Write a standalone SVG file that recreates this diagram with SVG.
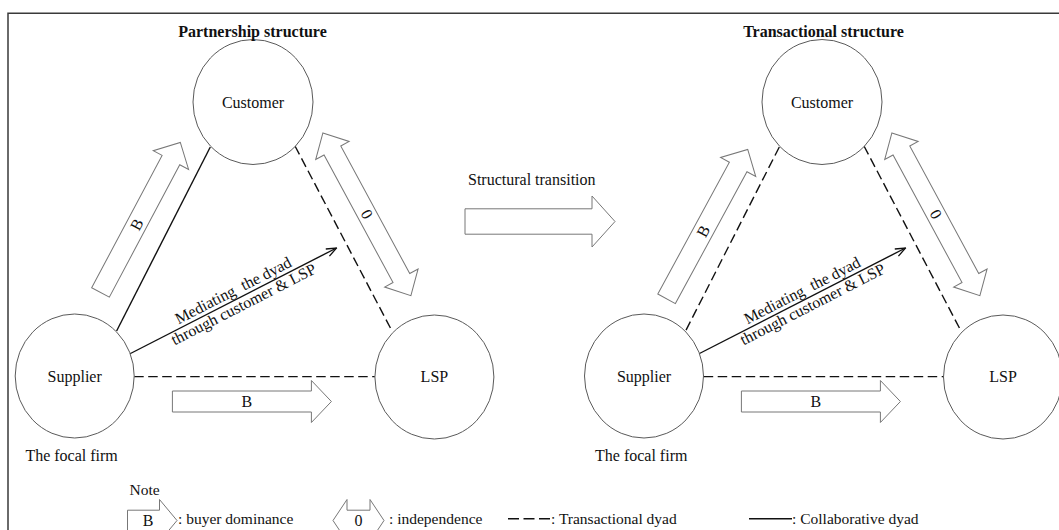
<svg xmlns="http://www.w3.org/2000/svg" width="1059" height="530" viewBox="0 0 1059 530">
  <defs>
    <style>
      text { font-family: "Liberation Serif", "Times New Roman", serif; font-size: 16px; fill: #111; }
      .title { font-weight: bold; text-anchor: middle; }
      .lbl { text-anchor: middle; }
      .legend { font-size: 15.5px; }
      .node { fill: #fff; stroke: #5a5a5a; stroke-width: 1; }
      .solid { stroke: #111; stroke-width: 1.4; fill: none; }
      .dash { stroke: #111; stroke-width: 1.4; fill: none; stroke-dasharray: 9.5 4.5; }
      .block { fill: #fff; stroke: #777; stroke-width: 1; }
      .frame { stroke: #3a3a3a; stroke-width: 1.5; fill: none; }
    </style>
    <marker id="openHead" markerWidth="12" markerHeight="10" refX="11" refY="5" orient="auto" markerUnits="userSpaceOnUse">
      <path d="M1,1 L11,5 L1,9" fill="none" stroke="#111" stroke-width="1.3"/>
    </marker>
    <!-- block arrow outlines, drawn along +x from the tail -->
    <path id="blockH" class="block" d="M0,-10.5 H139 V-21 L159,0 L139,21 V10.5 H0 Z"/>
    <path id="blockD" class="block" d="M0,-10 H150 V-20 L170,0 L150,20 V10 H0 Z"/>
    <path id="blockDouble" class="block" d="M0,0 L20,-19 V-9.5 H165 V-19 L185,0 L165,19 V9.5 H20 V19 Z"/>
    <path id="blockBig" class="block" d="M0,-12.7 H127 V-25.5 L150,0 L127,25.5 V12.7 H0 Z"/>
    <path id="legendSingle" class="block" d="M0,-10.3 H32 V-21 L49.5,0 L32,21 V10.3 H0 Z"/>
    <path id="legendDouble" class="block" d="M0,0 L14,-21 V-10.3 H37 V-21 L51,0 L37,21 V10.3 H14 V21 Z"/>
  </defs>

  <!-- outer frame -->
  <path class="frame" d="M8,530 V13.3 H1059"/>

  <!-- dyad connectors -->
  <g id="connectors">
    <!-- partnership structure -->
    <line class="solid" x1="210.3" y1="147" x2="116.6" y2="331"/>
    <line class="dash" x1="295" y1="146" x2="392" y2="331"/>
    <line class="dash" x1="134.2" y1="376.6" x2="374.9" y2="376.6"/>
    <line class="solid" x1="129.5" y1="354" x2="336.5" y2="248" marker-end="url(#openHead)"/>
    <!-- transactional structure -->
    <line class="dash" x1="779.3" y1="147" x2="685.6" y2="331"/>
    <line class="dash" x1="864" y1="146" x2="961" y2="331"/>
    <line class="dash" x1="703.7" y1="376.6" x2="944" y2="376.6"/>
    <line class="solid" x1="698.5" y1="354" x2="905.5" y2="248" marker-end="url(#openHead)"/>
  </g>

  <!-- mediating labels along the supplier arrow -->
  <g id="mediating-left" transform="translate(129.5,354) rotate(-27.1)">
    <text x="57" y="-4">Mediating&#160; the dyad</text>
    <text x="44" y="13">through customer &amp; LSP</text>
  </g>
  <g id="mediating-right" transform="translate(698.5,354) rotate(-27.1)">
    <text x="57" y="-4">Mediating&#160; the dyad</text>
    <text x="44" y="13">through customer &amp; LSP</text>
  </g>

  <!-- dominance / independence arrows -->
  <g id="relations">
    <g transform="translate(100.5,292.5) rotate(-62)">
      <use href="#blockD"/>
      <text class="lbl" x="77" y="5.5">B</text>
    </g>
    <g transform="translate(322.9,132.9) rotate(61.6)">
      <use href="#blockDouble"/>
      <text class="lbl" x="92.5" y="5.5">0</text>
    </g>
    <g transform="translate(172.4,401.5)">
      <use href="#blockH"/>
      <text class="lbl" x="74.4" y="5.5">B</text>
    </g>

    <g transform="translate(666.6,298.8) rotate(-61.5)">
      <use href="#blockD"/>
      <text class="lbl" x="77" y="5.5">B</text>
    </g>
    <g transform="translate(891.9,132.9) rotate(61.6)">
      <use href="#blockDouble"/>
      <text class="lbl" x="92.5" y="5.5">0</text>
    </g>
    <g transform="translate(741.4,401.5)">
      <use href="#blockH"/>
      <text class="lbl" x="74.4" y="5.5">B</text>
    </g>
  </g>

  <!-- transition between the two structures -->
  <g id="transition">
    <text x="468" y="185">Structural transition</text>
    <use href="#blockBig" transform="translate(465,221.5)"/>
  </g>

  <!-- nodes: partnership structure -->
  <g id="customer-left">
    <ellipse class="node" cx="253" cy="102" rx="60" ry="62.5"/>
    <text class="lbl" x="253" y="108">Customer</text>
  </g>
  <g id="supplier-left">
    <ellipse class="node" cx="74.7" cy="376" rx="59.5" ry="62"/>
    <text class="lbl" x="74.7" y="382">Supplier</text>
  </g>
  <g id="lsp-left">
    <ellipse class="node" cx="434.4" cy="377" rx="59.5" ry="62"/>
    <text class="lbl" x="434.4" y="382">LSP</text>
  </g>

  <!-- nodes: transactional structure -->
  <g id="customer-right">
    <ellipse class="node" cx="822" cy="102" rx="60" ry="62.5"/>
    <text class="lbl" x="822" y="108">Customer</text>
  </g>
  <g id="supplier-right">
    <ellipse class="node" cx="644" cy="376" rx="59.5" ry="62"/>
    <text class="lbl" x="644" y="382">Supplier</text>
  </g>
  <g id="lsp-right">
    <ellipse class="node" cx="1003" cy="377" rx="59.5" ry="62"/>
    <text class="lbl" x="1003" y="382">LSP</text>
  </g>

  <!-- titles and captions -->
  <text class="title" x="252.5" y="36.5">Partnership structure</text>
  <text class="title" x="823.5" y="36.5">Transactional structure</text>
  <text x="25.4" y="461">The focal firm</text>
  <text x="595" y="461">The focal firm</text>

  <!-- legend -->
  <g id="legend">
    <text class="legend" x="129.5" y="495">Note</text>
    <g transform="translate(127.5,520.5)">
      <use href="#legendSingle"/>
      <text class="lbl" x="20.5" y="5.5">B</text>
    </g>
    <text class="legend" x="178" y="524">: buyer dominance</text>
    <g transform="translate(333,520.5)">
      <use href="#legendDouble"/>
      <text class="lbl" x="25.5" y="5.5">0</text>
    </g>
    <text class="legend" x="389" y="524">: independence</text>
    <line class="solid" x1="508" y1="518.8" x2="550" y2="518.8" style="stroke-dasharray:11 4.5"/>
    <text class="legend" x="551" y="524">: Transactional dyad</text>
    <line class="solid" x1="749" y1="518.8" x2="792" y2="518.8"/>
    <text class="legend" x="792" y="524">: Collaborative dyad</text>
  </g>
</svg>
